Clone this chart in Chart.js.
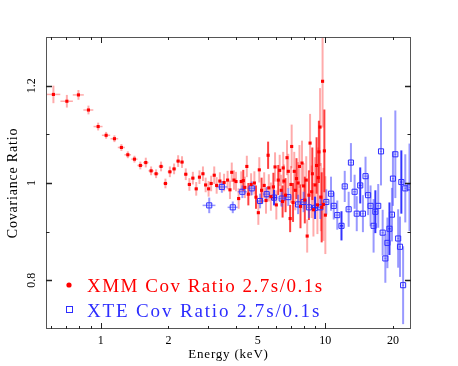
<!DOCTYPE html>
<html><head><meta charset="utf-8">
<script src="https://cdn.jsdelivr.net/npm/chart.js@4/dist/chart.umd.min.js"></script>
<style>html,body{margin:0;padding:0;background:#fff}#wrap{width:458px;height:366px}</style>
</head><body><div id="wrap"><canvas id="c" width="458" height="366"></canvas></div>
<script>
// ---- data ----
const xmmEnergy = [0.615,0.706,0.795,0.881,0.973,1.056,1.15,1.235,1.319,1.412,1.50,1.586,1.675,1.763,1.855,1.94,2.03,2.12,2.21,2.30,2.39,2.48,2.57,2.66,2.75,2.85,2.93,3.02,3.10,3.20,3.28,3.39,3.54,3.67,3.76,3.83,3.92,4.00,4.11,4.22,4.31,4.38,4.47,4.54,4.67,4.83,4.91,5.03,5.08,5.20,5.34,5.44,5.56,5.60,5.72,5.87,5.97,6.05,6.17,6.26,6.36,6.45,6.49,6.54,6.65,6.75,6.84,6.97,7.03,7.08,7.18,7.27,7.35,7.44,7.56,7.67,7.75,7.87,8.00,8.10,8.22,8.30,8.45,8.55,8.69,8.75,8.85,9.00,9.14,9.22,9.30,9.36,9.47,9.55,9.63,9.72,9.80,9.90,10.0];
const xmmRatio = [1.182,1.168,1.181,1.150,1.116,1.098,1.091,1.073,1.058,1.049,1.036,1.042,1.025,1.019,1.034,0.999,1.023,1.029,1.045,1.043,1.018,0.997,1.010,0.988,1.012,1.019,0.996,0.988,0.999,1.016,0.995,1.004,1.001,1.006,0.986,1.022,1.006,1.003,0.968,1.003,1.005,0.991,1.034,0.977,0.997,1.000,0.971,0.939,1.027,0.985,0.995,0.964,1.057,0.990,0.972,0.992,1.033,0.955,1.006,1.026,0.985,0.962,1.031,1.004,0.975,1.052,1.024,0.927,0.997,1.075,0.960,1.024,0.985,1.009,1.000,1.034,0.952,1.041,0.994,0.965,1.006,0.891,0.975,1.082,0.982,1.019,0.945,0.996,1.036,0.955,1.011,1.064,1.115,0.971,0.950,1.209,0.956,1.066,0.934];
const xmmErr = [0.018,0.013,0.010,0.009,0.008,0.007,0.007,0.007,0.007,0.007,0.008,0.010,0.009,0.009,0.010,0.010,0.011,0.011,0.012,0.012,0.012,0.013,0.013,0.014,0.014,0.015,0.015,0.016,0.016,0.018,0.017,0.018,0.018,0.019,0.019,0.020,0.020,0.020,0.021,0.021,0.022,0.022,0.022,0.023,0.023,0.024,0.024,0.025,0.026,0.026,0.027,0.027,0.028,0.028,0.029,0.029,0.030,0.030,0.031,0.032,0.032,0.033,0.033,0.034,0.035,0.036,0.036,0.028,0.038,0.045,0.040,0.040,0.041,0.042,0.043,0.044,0.045,0.046,0.047,0.048,0.049,0.034,0.051,0.060,0.054,0.054,0.055,0.057,0.058,0.060,0.062,0.064,0.080,0.070,0.072,0.095,0.075,0.085,0.080];
const xmmEnergyErr = 0.045;

const xteEnergy = [3.04,3.46,3.87,4.27,4.70,5.12,5.48,5.91,6.39,6.84,7.56,8.00,8.45,9.00,9.50,10.1,10.6,10.9,11.3,11.8,12.2,12.7,13.0,13.5,13.8,14.3,14.7,15.1,15.5,15.9,16.4,16.7,17.2,17.7,18.0,18.5,18.9,19.3,19.8,20.0,20.5,21.1,21.5,21.8,22.2,22.7,23.7];
const xteRatio = [0.954,0.992,0.950,0.982,0.989,0.963,0.977,0.970,0.968,0.971,0.956,0.961,0.950,0.949,0.950,0.961,0.978,0.953,0.934,0.912,0.993,0.946,1.042,0.982,0.937,0.995,0.937,1.014,0.975,0.953,0.912,0.941,0.953,1.065,0.898,0.845,0.877,0.906,0.935,1.009,1.059,0.886,0.869,1.002,0.790,0.989,0.991];
const xteErr = [0.016,0.012,0.012,0.013,0.014,0.015,0.015,0.016,0.017,0.018,0.020,0.021,0.022,0.023,0.024,0.026,0.035,0.028,0.030,0.030,0.032,0.036,0.040,0.035,0.036,0.037,0.038,0.040,0.041,0.042,0.055,0.044,0.045,0.070,0.047,0.050,0.052,0.054,0.055,0.056,0.090,0.060,0.062,0.065,0.080,0.070,0.090];
const xteEnergyErr = 0.2;

const xTickLabels = [1,2,5,10,20];
const xMajorTicks = [1,10];
const xMinorTicks = [0.6,0.7,0.8,0.9,2,3,4,5,6,7,8,9,20];
const yTickLabels = [0.8,1,1.2];
const yMinorTicks = [0.9,1.1];
const legendLabels = ['XMM Cov Ratio 2.7s/0.1s','XTE Cov Ratio 2.7s/0.1s'];
const xTitle = 'Energy (keV)';
const yTitle = 'Covariance Ratio';

const RED = 'rgb(255,0,0)';
const BLUE = 'rgb(45,45,255)';
const SERIF = '"Liberation Serif", "DejaVu Serif", serif';

const toPts = (xs, ys) => xs.map((v,i)=>({x:v, y:ys[i]}));

const errPlugin = {
  id: 'errbars',
  beforeDatasetsDraw(chart){
    const {ctx, chartArea:a, scales:{x,y}} = chart;
    ctx.save();
    ctx.beginPath(); ctx.rect(a.left, a.top, a.right-a.left, a.bottom-a.top); ctx.clip();
    const drawSet = (E, V, S, dx, light, dark, darkEvery) => {
      for (let i=0;i<E.length;i++){
        const px = x.getPixelForValue(E[i]);
        const py = y.getPixelForValue(V[i]);
        ctx.strokeStyle = (darkEvery && i % darkEvery === 1 && E[i] > 4) ? dark : light;
        ctx.lineWidth = 2;
        ctx.beginPath();
        ctx.moveTo(px, y.getPixelForValue(V[i]-S[i]));
        ctx.lineTo(px, y.getPixelForValue(V[i]+S[i]));
        ctx.stroke();
        ctx.lineWidth = 1.5;
        ctx.beginPath();
        ctx.moveTo(x.getPixelForValue(Math.max(E[i]-dx, 0.01)), py);
        ctx.lineTo(x.getPixelForValue(E[i]+dx), py);
        ctx.stroke();
      }
    };
    drawSet(xmmEnergy, xmmRatio, xmmErr, xmmEnergyErr, 'rgba(255,0,0,0.33)', 'rgba(255,0,0,0.75)', 3);
    drawSet(xteEnergy, xteRatio, xteErr, xteEnergyErr, 'rgba(70,70,255,0.55)', 'rgba(30,30,255,0.9)', 6);
    ctx.restore();
  }
};

const framePlugin = {
  id: 'frame',
  afterDraw(chart){
    const {ctx, chartArea:a, scales:{x,y}} = chart;
    ctx.save();
    ctx.strokeStyle = '#555';
    ctx.lineWidth = 1;
    ctx.strokeRect(a.left+0.5, a.top+0.5, a.right-a.left-1, a.bottom-a.top-1);
    ctx.strokeStyle = '#222';
    const xt = (v, len, w) => {
      const px = Math.round(x.getPixelForValue(v))+0.5;
      ctx.lineWidth = w;
      ctx.beginPath();
      ctx.moveTo(px, a.bottom); ctx.lineTo(px, a.bottom-len);
      ctx.moveTo(px, a.top); ctx.lineTo(px, a.top+len);
      ctx.stroke();
    };
    const yt = (v, len, w) => {
      const py = Math.round(y.getPixelForValue(v))+0.5;
      ctx.lineWidth = w;
      ctx.beginPath();
      ctx.moveTo(a.left, py); ctx.lineTo(a.left+len, py);
      ctx.moveTo(a.right, py); ctx.lineTo(a.right-len, py);
      ctx.stroke();
    };
    xMinorTicks.forEach(v=>xt(v,3,1));
    xMajorTicks.forEach(v=>xt(v,6,1));
    yMinorTicks.forEach(v=>yt(v,3.5,1));
    yTickLabels.forEach(v=>yt(v,6,1.5));
    ctx.fillStyle = '#000';
    ctx.font = '12px ' + SERIF;
    ctx.textAlign = 'center';
    ctx.textBaseline = 'middle';
    xTickLabels.forEach(v=>{
      ctx.fillText(String(v), x.getPixelForValue(v), a.bottom+12);
    });
    yTickLabels.forEach(v=>{
      ctx.save();
      ctx.translate(a.left-14, y.getPixelForValue(v));
      ctx.rotate(-Math.PI/2);
      ctx.fillText(String(v), 0, 0);
      ctx.restore();
    });
    ctx.font = '13px ' + SERIF;
    try { ctx.letterSpacing = '0.8px'; } catch(e) {}
    ctx.fillText(xTitle, (a.left+a.right)/2, a.bottom+26);
    ctx.save();
    ctx.translate(13, (a.top+a.bottom)/2);
    ctx.rotate(-Math.PI/2);
    ctx.font = '14px ' + SERIF;
    ctx.fillText(yTitle, 0, 0);
    ctx.restore();
    // legend
    ctx.font = '19px ' + SERIF;
    ctx.textAlign = 'left';
    ctx.textBaseline = 'alphabetic';
    try { ctx.letterSpacing = '1.5px'; } catch(e) {}
    ctx.fillStyle = RED;
    ctx.beginPath(); ctx.arc(a.left+23, a.bottom-44, 2.6, 0, Math.PI*2); ctx.fill();
    ctx.fillText(legendLabels[0], a.left+41, a.bottom-37.5);
    try { ctx.letterSpacing = '1.85px'; } catch(e) {}
    ctx.strokeStyle = BLUE; ctx.lineWidth = 1;
    ctx.strokeRect(a.left+20.5, a.bottom-22.5, 6, 6);
    ctx.fillStyle = BLUE;
    ctx.fillText(legendLabels[1], a.left+41, a.bottom-12.5);
    ctx.restore();
  }
};

new Chart(document.getElementById('c'), {
  type: 'scatter',
  data: {
    datasets: [
      { label: 'XMM', data: toPts(xmmEnergy, xmmRatio), pointStyle: 'rect', pointRadius: 2.2,
        backgroundColor: RED, borderColor: RED, borderWidth: 0, pointHoverRadius: 2.2 },
      { label: 'XTE', data: toPts(xteEnergy, xteRatio), pointStyle: 'rect', pointRadius: 3.6,
        backgroundColor: 'rgba(0,0,0,0)', borderColor: BLUE, borderWidth: 1, pointHoverRadius: 3.6 }
    ]
  },
  options: {
    responsive: false,
    animation: false,
    events: [],
    layout: { padding: { left: 46, right: 47, top: 37, bottom: 37 } },
    plugins: { legend: { display: false }, tooltip: { enabled: false } },
    scales: {
      x: { type: 'logarithmic', min: 0.57, max: 24.07, display: false },
      y: { type: 'linear', min: 0.7, max: 1.3, display: false }
    }
  },
  plugins: [errPlugin, framePlugin]
});
</script>
</body></html>
